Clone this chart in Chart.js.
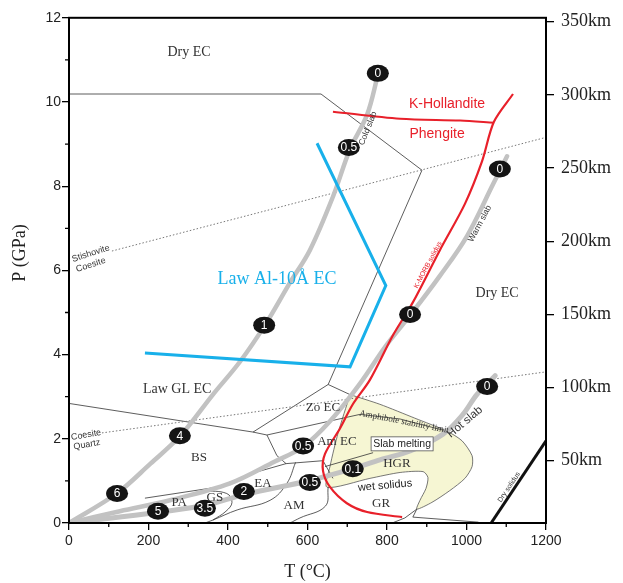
<!DOCTYPE html>
<html>
<head>
<meta charset="utf-8">
<style>
html, body { margin: 0; padding: 0; background: #fff; }
</style>
</head>
<body>
<canvas id="c" width="623" height="583"></canvas>
<script src="https://cdn.jsdelivr.net/npm/chart.js@4.4.1/dist/chart.umd.min.js"></script>
<script>
// --- P-T paths (T in °C, P in GPa) ---
const coldSlab = [[0,0],[120,0.70],[205,1.41],[280,2.07],[362,3.05],[430,3.83],[493,4.70],[556,5.71],[606,6.48],[664,7.75],[707,8.88],[750,9.70],[777,10.64]];
const warmSlab = [[0,0],[128,0.28],[254,0.54],[405,0.94],[518,1.46],[589,1.81],[657,2.42],[732,3.31],[795,4.18],[858,4.93],[933,5.87],[1001,6.81],[1067,8.05],[1102,8.71]];
const hotSlab = [[0,0],[128,0.14],[229,0.26],[342,0.42],[443,0.68],[606,1.01],[714,1.29],[782,1.50],[858,1.71],[941,2.11],[991,2.58],[1026,3.05],[1072,3.50]];

// numbers along the paths
const pathMarkers = [
    ["0",777,10.68],["0.5",704,8.92],["1",491,4.70],["4",279,2.07],["6",121,0.70],
    ["0",1084,8.41],["0",858,4.95],["0.5",589,1.83],
    ["0",1052,3.24],["0.1",714,1.29],["0.5",606,0.96],["2",440,0.75],["3.5",342,0.35],["5",224,0.28]
];

// --- reaction / stability lines ---
const kHollandite = [[664,9.77],[833,9.60],[984,9.56],[1069,9.51]];
const kmorbSolidus = [[1117,10.19],[1069,9.53],[1039,8.59],[996,7.58],[933,6.48],[865,5.24],[815,4.46],[757,3.40],[714,2.82],[682,2.25],[644,1.64],[639,1.24],[657,0.85],[699,0.47],[750,0.26],[838,0.14]];
const lawAl10A = [[624,9.02],[797,5.64],[707,3.71],[191,4.04]];
const drySolidus = [[1062,0],[1200,1.95]];
const stishCoesite = [[108,6.46],[1200,9.16]];
const coesQuartz = [[83,2.14],[1200,3.59]];

// slab melting field (HGR)
const hgrField = [[707,3.05],[782,2.82],[870,2.49],[951,2.18],[989,1.95],[1014,1.60],[1014,1.34],[996,1.06],[958,0.77],[913,0.49],[875,0.33],[883,0.54],[898,0.82],[903,1.08],[891,1.22],[833,1.20],[757,1.06],[649,0.85],[657,1.36],[677,2.14],[707,3.05]];

// facies boundaries
const faciesLines = [
    [[0,10.19],[634,10.19],[888,8.38],[652,3.29]],
    [[0,2.84],[463,2.16],[498,2.09]],
    [[652,3.29],[463,2.16]],
    [[652,3.29],[707,3.05]],
    [[498,2.09],[689,2.49],[732,2.58],[833,2.47],[951,2.18]],
    [[498,2.09],[523,1.60],[546,1.41]],
    [[546,1.41],[639,1.48],[664,1.06]],
    [[546,1.41],[468,1.20],[372,0.85],[191,0.59]],
    [[644,1.34],[765,1.67]],
    [[875,0.33],[865,0.14],[1030,0.02]],
    [[813,0],[845,0.12],[875,0.33]]
];
const faciesCurves = [
    [[570,1.44],[548,0.94],[506,0.54],[423,0.31],[362,0.07],[342,0]],
    [[337,0.77],[397,0.70],[410,0.49],[395,0.28],[362,0.07]],
    [[652,0.85],[645,0.40],[581,0.12],[556,0]]
];

// --- labels: [text, T, P, angle] ---
const faciesLabels = [["Dry EC",302,11.18],["Dry EC",1077,5.45],["Law GL EC",272,3.17]];
const smallFaciesLabels = [["BS",327,1.55],["Zo EC",639,2.75],["Am EC",674,1.93],["HGR",825,1.41],["EA",488,0.94],["PA",277,0.49],["GS",367,0.61],["AM",566,0.42],["GR",785,0.47]];
const phaseLabels = [["Stishovite",55,6.40,-18],["Coesite",55,6.13,-18],["Coesite",43,2.09,-10],["Quartz",45,1.86,-10]];
const pathLabels = [["Hot slab",996,2.40,-40],["Warm slab",1034,7.11,-62],["Cold slab",752,9.37,-68]];

const xTicks = [0,200,400,600,800,1000,1200];
const yTicks = [0,2,4,6,8,10,12];
const depthTicks = [50,100,150,200,250,300,350];

const serif = "'Liberation Serif','DejaVu Serif',serif";
const sans = "'Liberation Sans',Arial,sans-serif";

const xy = arr => arr.map(([x, y]) => ({ x, y }));
function line(data, color, width, extra) {
    return Object.assign({
        data: xy(data), showLine: true, borderColor: color, borderWidth: width,
        pointRadius: 0, pointHoverRadius: 0, fill: false, tension: 0,
        xAxisID: "x", yAxisID: "y"
    }, extra || {});
}

const datasets = [
    line(hgrField, "#555", 0.8, { fill: "shape", backgroundColor: "#f6f6d3", order: 20, tension: 0.25 }),
    ...faciesLines.map(l => line(l, "#333", 0.8, { order: 15 })),
    ...faciesCurves.map(l => line(l, "#333", 0.8, { order: 15, tension: 0.4 })),
    line(stishCoesite, "#777", 1, { borderDash: [1.5, 2], order: 14 }),
    line(coesQuartz, "#777", 1, { borderDash: [1.5, 2], order: 14 }),
    line(coldSlab, "#c2c2c2", 4.5, { order: 8, tension: 0.35, borderCapStyle: "round" }),
    line(warmSlab, "#c2c2c2", 4.5, { order: 8, tension: 0.35, borderCapStyle: "round" }),
    line(hotSlab, "#c2c2c2", 5, { order: 8, tension: 0.35, borderCapStyle: "round" }),
    line(kHollandite, "#e8202a", 2, { order: 5, tension: 0.3 }),
    line(kmorbSolidus, "#e8202a", 2.2, { order: 5, tension: 0.3 }),
    line(lawAl10A, "#18b0ea", 3, { order: 4 }),
    line(drySolidus, "#111", 3, { order: 3 })
];

function text(ctx, s, x, y, font, color, angle) {
    ctx.save();
    ctx.translate(x, y);
    if (angle) ctx.rotate(angle * Math.PI / 180);
    ctx.font = font;
    ctx.fillStyle = color;
    ctx.textAlign = "center";
    ctx.textBaseline = "middle";
    ctx.fillText(s, 0, 0);
    ctx.restore();
}

const overlay = {
    id: "overlay",
    afterDatasetsDraw(chart) {
        const { ctx, chartArea: a, scales } = chart;
        const X = v => scales.x.getPixelForValue(v);
        const Y = v => scales.y.getPixelForValue(v);

        faciesLabels.forEach(([s, t, p]) => text(ctx, s, X(t), Y(p), "14px " + serif, "#333"));
        smallFaciesLabels.forEach(([s, t, p]) => text(ctx, s, X(t), Y(p), "13px " + serif, "#333"));
        phaseLabels.forEach(([s, t, p, r]) => text(ctx, s, X(t), Y(p), "9px " + sans, "#333", r));
        pathLabels.forEach(([s, t, p, r], i) => text(ctx, s, X(t), Y(p), (i === 0 ? "11.5px " : "8.5px ") + sans, "#333", r));

        text(ctx, "Amphibole stability limit", X(843), Y(2.40), "9px " + serif, "#333", 11);
        text(ctx, "wet solidus", X(795), Y(0.89), "11px " + sans, "#222", -5);
        text(ctx, "Dry solidus", X(1107), Y(0.85), "7px " + sans, "#333", -56);
        text(ctx, "K-MORB solidus", X(903), Y(6.13), "7px " + sans, "#e8202a", -62);
        text(ctx, "K-Hollandite", X(951), Y(9.96), "14px " + sans, "#e8202a");
        text(ctx, "Phengite", X(926), Y(9.23), "14px " + sans, "#e8202a");
        text(ctx, "Law Al-10Å EC", X(523), Y(5.78), "18px " + serif, "#18b0ea");

        // slab melting box
        const bx = X(838), by = Y(1.88);
        ctx.save();
        ctx.fillStyle = "#fff";
        ctx.strokeStyle = "#555";
        ctx.lineWidth = 0.8;
        ctx.fillRect(bx - 31, by - 7, 62, 14);
        ctx.strokeRect(bx - 31, by - 7, 62, 14);
        ctx.restore();
        text(ctx, "Slab melting", bx, by, "10.5px " + sans, "#222");

        // path numbers
        pathMarkers.forEach(([s, t, p]) => {
            const px = X(t), py = Y(p);
            ctx.save();
            ctx.beginPath();
            ctx.ellipse(px, py, 11, 8.5, 0, 0, Math.PI * 2);
            ctx.fillStyle = "#141414";
            ctx.fill();
            ctx.restore();
            text(ctx, s, px, py + 0.5, "12px " + sans, "#fff");
        });

        // frame and minor ticks
        ctx.save();
        ctx.strokeStyle = "#000";
        ctx.lineWidth = 2;
        ctx.strokeRect(a.left, a.top, a.right - a.left, a.bottom - a.top);
        ctx.lineWidth = 1.3;
        ctx.beginPath();
        for (let v = 100; v < 1200; v += 200) {
            ctx.moveTo(X(v), a.bottom); ctx.lineTo(X(v), a.bottom + 4);
        }
        for (let v = 1; v < 12; v += 2) {
            ctx.moveTo(a.left, Y(v)); ctx.lineTo(a.left - 4, Y(v));
        }
        ctx.stroke();
        ctx.restore();

        text(ctx, "P (GPa)", 20, 253, "18px " + serif, "#222", -90);
    }
};

const majorOnly = list => c => list.includes(c.tick.value) ? "#000" : "rgba(0,0,0,0)";

new Chart(document.getElementById("c"), {
    type: "scatter",
    data: { datasets },
    options: {
        responsive: false,
        animation: false,
        devicePixelRatio: 1,
        layout: { padding: { top: 12, left: 0, right: 0, bottom: 0 } },
        plugins: { legend: { display: false }, tooltip: { enabled: false } },
        scales: {
            x: {
                type: "linear", min: 0, max: 1200,
                afterFit: s => { s.height = 60; },
                ticks: {
                    stepSize: 100, autoSkip: false, maxRotation: 0, padding: 3,
                    color: "#222", font: { family: sans, size: 14 },
                    callback: v => xTicks.includes(v) ? String(v) : ""
                },
                grid: { drawOnChartArea: false, tickLength: 7, lineWidth: 1.3, tickColor: majorOnly(xTicks) },
                border: { display: false },
                title: { display: true, text: "T (°C)", color: "#222", font: { family: serif, size: 18 }, padding: { top: 0, bottom: 0 } }
            },
            y: {
                type: "linear", min: 0, max: 12, position: "left",
                afterFit: s => { s.width = 69; },
                ticks: {
                    stepSize: 1, autoSkip: false, padding: 1,
                    color: "#222", font: { family: sans, size: 14 },
                    callback: v => yTicks.includes(v) ? String(v) : ""
                },
                grid: { drawOnChartArea: false, tickLength: 7, lineWidth: 1.3, tickColor: majorOnly(yTicks) },
                border: { display: false }
            },
            y2: {
                type: "linear", min: 7.4, max: 352.7, position: "right",
                afterFit: s => { s.width = 77; },
                ticks: {
                    stepSize: 50, includeBounds: false, autoSkip: false, padding: 7,
                    color: "#222", font: { family: serif, size: 18 },
                    callback: v => depthTicks.includes(v) ? v + "km" : ""
                },
                grid: { drawOnChartArea: false, tickLength: 8, lineWidth: 1.3, color: "#000" },
                border: { display: false }
            }
        }
    },
    plugins: [overlay]
});
</script>
</body>
</html>
